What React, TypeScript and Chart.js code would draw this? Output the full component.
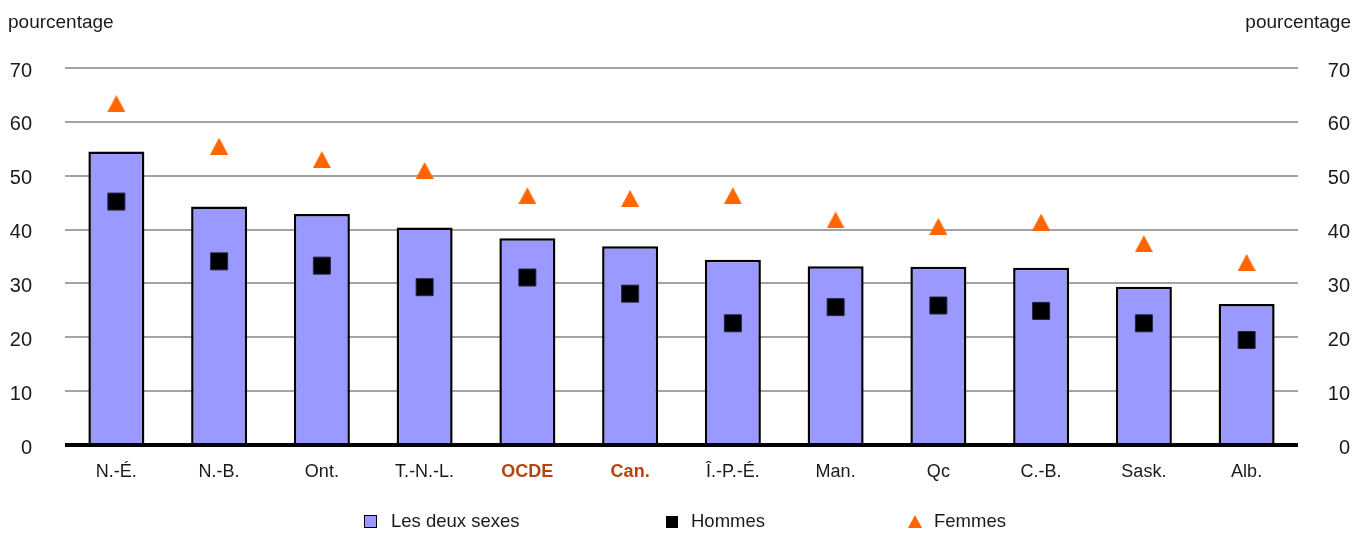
import React, { useEffect, useRef } from 'react';
import { Chart, registerables } from 'chart.js';

Chart.register(...registerables);

// ---- data ----
const categories = ['N.-É.', 'N.-B.', 'Ont.', 'T.-N.-L.', 'OCDE', 'Can.', 'Î.-P.-É.', 'Man.', 'Qc', 'C.-B.', 'Sask.', 'Alb.'];
const highlighted = ['OCDE', 'Can.'];
const bothSexes = [54.5, 44.3, 42.9, 40.4, 38.4, 36.9, 34.4, 33.2, 33.1, 32.9, 29.4, 26.2];
const men = [45.2, 34.1, 33.3, 29.3, 31.1, 28.1, 22.6, 25.6, 25.9, 24.9, 22.6, 19.5];
const women = [63.4, 55.5, 53.0, 51.0, 46.3, 45.8, 46.3, 41.8, 40.6, 41.4, 37.4, 33.9];
const yTicks = [0, 10, 20, 30, 40, 50, 60, 70];
const seriesLabels = ['Les deux sexes', 'Hommes', 'Femmes'];
const unitLabel = 'pourcentage';

// ---- styles ----
const FONT = "'Liberation Sans', Arial, Helvetica, sans-serif";
const TEXT = '#1a1a1a';
const BAR = '#9999ff';
const ORANGE = '#ff6600';
const HIGHLIGHT = '#b5440c';

function makeTriangle(w: number, h: number, color: string): HTMLCanvasElement {
  const c = document.createElement('canvas');
  c.width = w;
  c.height = h;
  const g = c.getContext('2d')!;
  g.fillStyle = color;
  g.beginPath();
  g.moveTo(w / 2, 0);
  g.lineTo(w, h);
  g.lineTo(0, h);
  g.closePath();
  g.fill();
  return c;
}

const unitPlugin = {
  id: 'unitLabels',
  afterDraw(chart: any) {
    const ctx = chart.ctx;
    ctx.save();
    ctx.font = `19px ${FONT}`;
    ctx.fillStyle = TEXT;
    ctx.textBaseline = 'alphabetic';
    ctx.textAlign = 'left';
    ctx.fillText(unitLabel, 8, 28);
    ctx.textAlign = 'right';
    ctx.fillText(unitLabel, chart.width - 13, 28);
    ctx.restore();
  },
};

export default function App() {
  const ref = useRef<HTMLCanvasElement>(null);

  useEffect(() => {
    document.body.style.margin = '0';
    const tri = makeTriangle(18, 17, ORANGE);
    const chart = new Chart(ref.current!, {
      type: 'bar',
      data: {
        labels: categories,
        datasets: [
          {
            type: 'bar',
            label: seriesLabels[0],
            data: bothSexes,
            backgroundColor: BAR,
            borderColor: '#000000',
            borderWidth: 2.5,
            barPercentage: 0.545,
            categoryPercentage: 1,
            order: 3,
            yAxisID: 'y',
          },
          {
            type: 'line',
            label: seriesLabels[1],
            data: men,
            showLine: false,
            pointStyle: 'rect',
            pointRadius: 12,
            pointBackgroundColor: '#000000',
            pointBorderColor: '#222244',
            pointBorderWidth: 1,
            order: 2,
            yAxisID: 'y',
          },
          {
            type: 'line',
            label: seriesLabels[2],
            data: women,
            showLine: false,
            pointStyle: tri as any,
            pointRadius: 9,
            order: 1,
            yAxisID: 'y',
          },
        ] as any,
      },
      options: {
        responsive: false,
        animation: false,
        layout: { padding: { top: 68, bottom: 0, left: 0, right: 14 } },
        plugins: {
          legend: { display: false },
          tooltip: { enabled: false },
        },
        scales: {
          x: {
            grid: { display: false, drawTicks: false },
            border: { display: false },
            ticks: {
              padding: 16,
              font: (c: any) => ({
                family: FONT,
                size: 18,
                weight: highlighted.includes(categories[c.index]) ? 'bold' : 'normal',
              }),
              color: (c: any) => (highlighted.includes(categories[c.index]) ? HIGHLIGHT : TEXT),
            },
            afterFit: (s: any) => {
              s.height = 89;
            },
          },
          y: {
            position: 'left',
            min: 0,
            max: 70,
            afterBuildTicks: (s: any) => {
              s.ticks = yTicks.map((v) => ({ value: v }));
            },
            grid: {
              drawTicks: false,
              color: (c: any) => (c.tick && c.tick.value === 0 ? '#000000' : '#a3a3a3'),
              lineWidth: (c: any) => (c.tick && c.tick.value === 0 ? 4 : 2),
            },
            border: { display: false },
            ticks: {
              padding: 33,
              labelOffset: 3,
              font: { family: FONT, size: 20 },
              color: TEXT,
            },
            afterFit: (s: any) => {
              s.width = 65;
            },
          },
          y2: {
            position: 'right',
            display: true,
            min: 0,
            max: 70,
            afterBuildTicks: (s: any) => {
              s.ticks = yTicks.map((v) => ({ value: v }));
            },
            grid: { display: false, drawTicks: false },
            border: { display: false },
            ticks: {
              padding: 19,
              labelOffset: 3,
              crossAlign: 'far',
              font: { family: FONT, size: 20 },
              color: TEXT,
            },
            afterFit: (s: any) => {
              s.width = 52;
            },
          },
        },
      } as any,
      plugins: [unitPlugin],
    });
    return () => chart.destroy();
  }, []);

  const legendText: React.CSSProperties = {
    position: 'absolute',
    top: 510,
    fontFamily: FONT,
    fontSize: 18.5,
    color: TEXT,
    lineHeight: '22px',
    whiteSpace: 'nowrap',
  };

  return (
    <div style={{ position: 'relative', width: 1364, height: 534, overflow: 'hidden' }}>
      <canvas ref={ref} width={1364} height={534} style={{ display: 'block' }} />
      <div
        style={{
          position: 'absolute',
          left: 364,
          top: 515,
          width: 11,
          height: 11,
          background: BAR,
          border: '1.5px solid #000',
        }}
      />
      <div style={{ ...legendText, left: 391 }}>{seriesLabels[0]}</div>
      <div
        style={{ position: 'absolute', left: 666, top: 516, width: 12, height: 12, background: '#000' }}
      />
      <div style={{ ...legendText, left: 691 }}>{seriesLabels[1]}</div>
      <div
        style={{
          position: 'absolute',
          left: 908,
          top: 515,
          width: 0,
          height: 0,
          borderLeft: '7.5px solid transparent',
          borderRight: '7.5px solid transparent',
          borderBottom: `13px solid ${ORANGE}`,
        }}
      />
      <div style={{ ...legendText, left: 934 }}>{seriesLabels[2]}</div>
    </div>
  );
}
